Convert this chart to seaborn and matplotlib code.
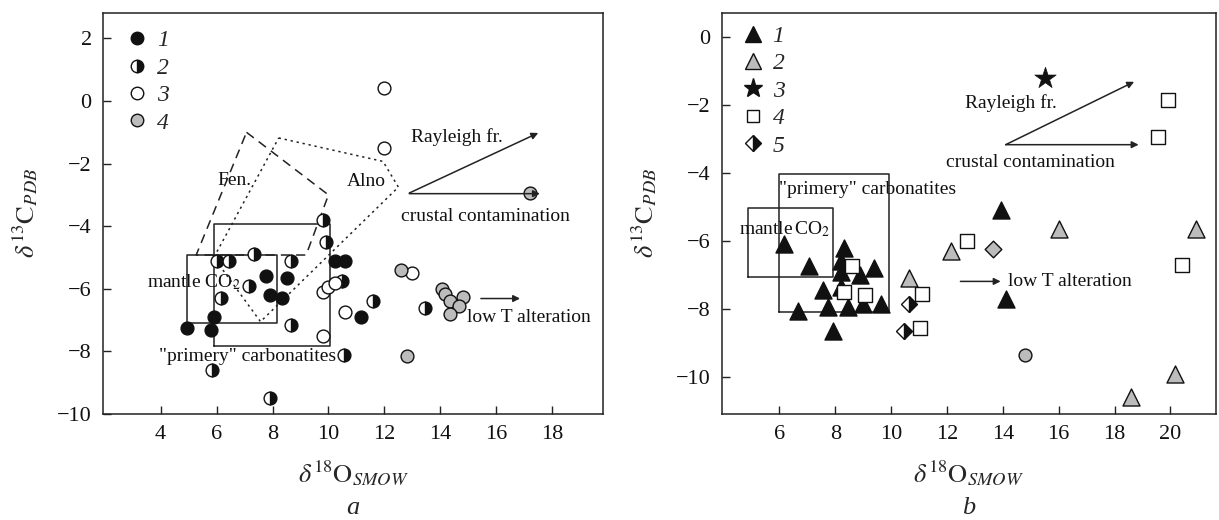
import matplotlib.pyplot as plt
import seaborn as sns
from matplotlib.lines import Line2D

# ---- panel a : circles ----
a1_x = [4.95, 5.8, 5.9, 7.75, 8.5, 7.9, 8.35, 10.25, 10.6, 11.15]
a1_y = [-7.25, -7.3, -6.9, -5.6, -5.65, -6.2, -6.3, -5.1, -5.1, -6.9]
a2_x = [9.8, 9.9, 6.0, 6.45, 7.35, 8.65, 7.15, 6.15, 8.65, 5.85, 7.9, 10.55, 10.5, 11.6, 13.45]
a2_y = [-3.8, -4.5, -5.1, -5.1, -4.9, -5.1, -5.9, -6.3, -7.15, -8.6, -9.5, -8.1, -5.75, -6.4, -6.6]
a3_x = [9.8, 10.0, 10.25, 10.6, 9.8, 12.0, 12.0, 13.0]
a3_y = [-6.1, -5.95, -5.8, -6.75, -7.5, -1.5, 0.4, -5.5]
a4_x = [12.6, 14.05, 14.15, 14.35, 14.8, 14.65, 14.35, 12.8, 17.2]
a4_y = [-5.4, -6.0, -6.15, -6.4, -6.25, -6.55, -6.8, -8.15, -2.95]

# fields in panel a
fen_x = [7.07, 10.0, 9.2, 5.27, 7.07]
fen_y = [-1.0, -3.0, -4.92, -4.92, -1.0]
alno_x = [8.22, 11.95, 12.5, 7.57, 5.9, 8.22]
alno_y = [-1.18, -1.93, -2.75, -7.05, -5.0, -1.18]
a_mantle = [4.93, 8.16, -7.09, -4.91]      # x0, x1, y0, y1
a_primary = [5.91, 10.05, -7.83, -3.92]

# ---- panel b ----
b1_x = [6.15, 7.05, 8.3, 8.2, 8.2, 8.9, 9.4, 7.55, 8.2, 6.65, 7.75, 8.45, 9.0, 9.65, 7.9, 13.95, 14.1]
b1_y = [-6.1, -6.75, -6.2, -6.6, -6.9, -7.0, -6.8, -7.45, -7.35, -8.05, -7.95, -7.95, -7.85, -7.85, -8.65, -5.1, -7.7]
b2_x = [12.15, 10.65, 16.0, 20.9, 20.15, 18.6]
b2_y = [-6.3, -7.1, -5.65, -5.65, -9.9, -10.6]
b3_x = [15.5]
b3_y = [-1.2]
b4_x = [8.6, 8.3, 9.05, 11.1, 11.05, 12.7, 20.4, 19.9, 19.55]
b4_y = [-6.75, -7.5, -7.6, -7.55, -8.55, -6.0, -6.7, -1.85, -2.95]
b5_x = [10.65, 10.45]
b5_y = [-7.85, -8.65]
bgd_x = [13.65]
bgd_y = [-6.25]
bgc_x = [14.8]
bgc_y = [-9.35]
b_mantle = [4.88, 7.93, -7.06, -5.03]
b_primary = [5.98, 9.93, -8.08, -4.04]

GRAY = '#bcbcbc'
sns.set_style('ticks')
plt.rcParams['font.family'] = ['Liberation Serif', 'DejaVu Serif']
plt.rcParams['mathtext.fontset'] = 'stix'
plt.rcParams['xtick.direction'] = 'in'
plt.rcParams['ytick.direction'] = 'in'

fig = plt.figure(figsize=(12.19, 5.2), dpi=100)
axa = fig.add_axes([0.0843, 0.2038, 0.4107, 0.7717])
axb = fig.add_axes([0.592, 0.2038, 0.4055, 0.7717])


def box(ax, b):
    ax.plot([b[0], b[1], b[1], b[0], b[0]], [b[2], b[2], b[3], b[3], b[2]],
            color='#222222', lw=1.1, zorder=1)


def arrow(ax, x0, y0, x1, y1):
    ax.annotate('', xy=(x1, y1), xytext=(x0, y0),
                arrowprops=dict(arrowstyle='-|>', color='#222222', lw=1.1,
                                mutation_scale=10, shrinkA=0, shrinkB=0))


def half(ax, x, y, m, ms):
    ax.plot(x, y, ls='none', marker=m, ms=ms, fillstyle='right',
            markerfacecolor='#111111', markerfacecoloralt='white',
            markeredgecolor='#111111', markeredgewidth=1, zorder=3)


# panel a
box(axa, a_mantle)
box(axa, a_primary)
axa.plot(fen_x, fen_y, color='#222222', lw=1.1, ls=(0, (6, 4)), zorder=1)
axa.plot(alno_x, alno_y, color='#222222', lw=1.1, ls=(0, (1.5, 2.5)), zorder=1)
sns.scatterplot(x=a1_x, y=a1_y, ax=axa, marker='o', s=85, color='#111111',
                edgecolor='#111111', linewidth=1, zorder=3)
half(axa, a2_x, a2_y, 'o', 9.2)
sns.scatterplot(x=a3_x, y=a3_y, ax=axa, marker='o', s=85, color='white',
                edgecolor='#111111', linewidth=1, zorder=3)
sns.scatterplot(x=a4_x, y=a4_y, ax=axa, marker='o', s=85, color=GRAY,
                edgecolor='#111111', linewidth=1, zorder=3)

tkw = dict(fontsize=14, color='#111111')
axa.text(6.62, -2.54, 'Fen.', ha='center', va='center', **tkw)
axa.text(11.35, -2.57, 'Alno', ha='center', va='center', **tkw)
axa.text(14.6, -1.16, 'Rayleigh fr.', ha='center', va='center', **tkw)
axa.text(15.6, -3.7, 'crustal contamination', ha='center', va='center', **tkw)
axa.text(14.95, -6.93, 'low T alteration', ha='left', va='center', **tkw)
axa.text(5.2, -5.8, r'mantle CO$_2$', ha='center', va='center', **tkw)
axa.text(7.1, -8.15, '"primery" carbonatites', ha='center', va='center', **tkw)
arrow(axa, 12.89, -2.94, 17.5, -1.02)
arrow(axa, 12.89, -2.96, 17.56, -2.96)
arrow(axa, 15.45, -6.31, 16.85, -6.31)

axa.set_xlim(1.93, 19.83)
axa.set_ylim(-10, 2.82)
axa.set_xticks([4, 6, 8, 10, 12, 14, 16, 18])
axa.set_yticks([2, 0, -2, -4, -6, -8, -10])

# panel b
box(axb, b_mantle)
box(axb, b_primary)
sns.scatterplot(x=b1_x, y=b1_y, ax=axb, marker='^', s=150, color='#111111',
                edgecolor='#111111', linewidth=1, zorder=3)
sns.scatterplot(x=b2_x, y=b2_y, ax=axb, marker='^', s=150, color=GRAY,
                edgecolor='#111111', linewidth=1, zorder=3)
sns.scatterplot(x=b3_x, y=b3_y, ax=axb, marker='*', s=260, color='#111111',
                edgecolor='#111111', linewidth=0.5, zorder=3)
sns.scatterplot(x=b4_x, y=b4_y, ax=axb, marker='s', s=90, color='white',
                edgecolor='#111111', linewidth=1, zorder=3)
half(axb, b5_x, b5_y, 'D', 8.5)
sns.scatterplot(x=bgd_x, y=bgd_y, ax=axb, marker='D', s=72, color=GRAY,
                edgecolor='#111111', linewidth=1, zorder=3)
sns.scatterplot(x=bgc_x, y=bgc_y, ax=axb, marker='o', s=85, color=GRAY,
                edgecolor='#111111', linewidth=1, zorder=3)

axb.text(14.3, -1.96, 'Rayleigh fr.', ha='center', va='center', **tkw)
axb.text(15.0, -3.68, 'crustal contamination', ha='center', va='center', **tkw)
axb.text(14.2, -7.19, 'low T alteration', ha='left', va='center', **tkw)
axb.text(6.2, -5.66, r'mantle$\,$CO$_2$', ha='center', va='center', **tkw)
axb.text(5.98, -4.49, '"primery" carbonatites', ha='left', va='center', **tkw)
arrow(axb, 14.1, -3.17, 18.7, -1.32)
arrow(axb, 14.1, -3.17, 18.86, -3.17)
arrow(axb, 12.48, -7.19, 13.92, -7.19)

axb.set_xlim(3.93, 21.63)
axb.set_ylim(-11.09, 0.71)
axb.set_xticks([6, 8, 10, 12, 14, 16, 18, 20])
axb.set_yticks([0, -2, -4, -6, -8, -10])

# legends
ka = dict(ls='none', markeredgecolor='#111111', markeredgewidth=1, ms=9)
ha = [Line2D([], [], marker='o', markerfacecolor='#111111', **ka),
      Line2D([], [], marker='o', fillstyle='right', markerfacecolor='#111111',
             markerfacecoloralt='white', **ka),
      Line2D([], [], marker='o', markerfacecolor='white', **ka),
      Line2D([], [], marker='o', markerfacecolor=GRAY, **ka)]
kb = dict(ls='none', markeredgecolor='#111111', markeredgewidth=1)
hb = [Line2D([], [], marker='^', ms=11, markerfacecolor='#111111', **kb),
      Line2D([], [], marker='^', ms=11, markerfacecolor=GRAY, **kb),
      Line2D([], [], marker='*', ms=14, markerfacecolor='#111111', **kb),
      Line2D([], [], marker='s', ms=9, markerfacecolor='white', **kb),
      Line2D([], [], marker='D', ms=8.5, fillstyle='right', markerfacecolor='#111111',
             markerfacecoloralt='white', **kb)]
for ax, hs, labs, anchor in [(axa, ha, ['1', '2', '3', '4'], (0.016, 0.9925)),
                             (axb, hb, ['1', '2', '3', '4', '5'], (0.01, 1.004))]:
    ax.legend(hs, labs, loc='upper left', bbox_to_anchor=anchor, frameon=False,
              handlelength=1.0, handletextpad=0.35, labelspacing=0.25,
              borderaxespad=0.3, borderpad=0.3,
              prop=dict(family='Liberation Serif', style='italic', size=17))

for ax, tag in [(axa, 'a'), (axb, 'b')]:
    for s in ax.spines.values():
        s.set_color('#222222')
        s.set_linewidth(1.1)
    ax.tick_params(labelsize=16, length=6, width=1, colors='#222222',
                   labelcolor='#111111', pad=8)
    ax.set_xlabel(r'$\delta^{18}\mathrm{O}_{SMOW}$', fontsize=19, labelpad=10)
    ax.set_ylabel(r'$\delta^{13}\mathrm{C}_{PDB}$', fontsize=19, labelpad=12)
    ax.text(0.5, -0.234, tag, transform=ax.transAxes, ha='center', va='center',
            fontsize=19, style='italic')
    ax.set_yticklabels([str(int(t)).replace('-', '\u2212') for t in ax.get_yticks()])

fig.savefig('out.png', dpi=100)
